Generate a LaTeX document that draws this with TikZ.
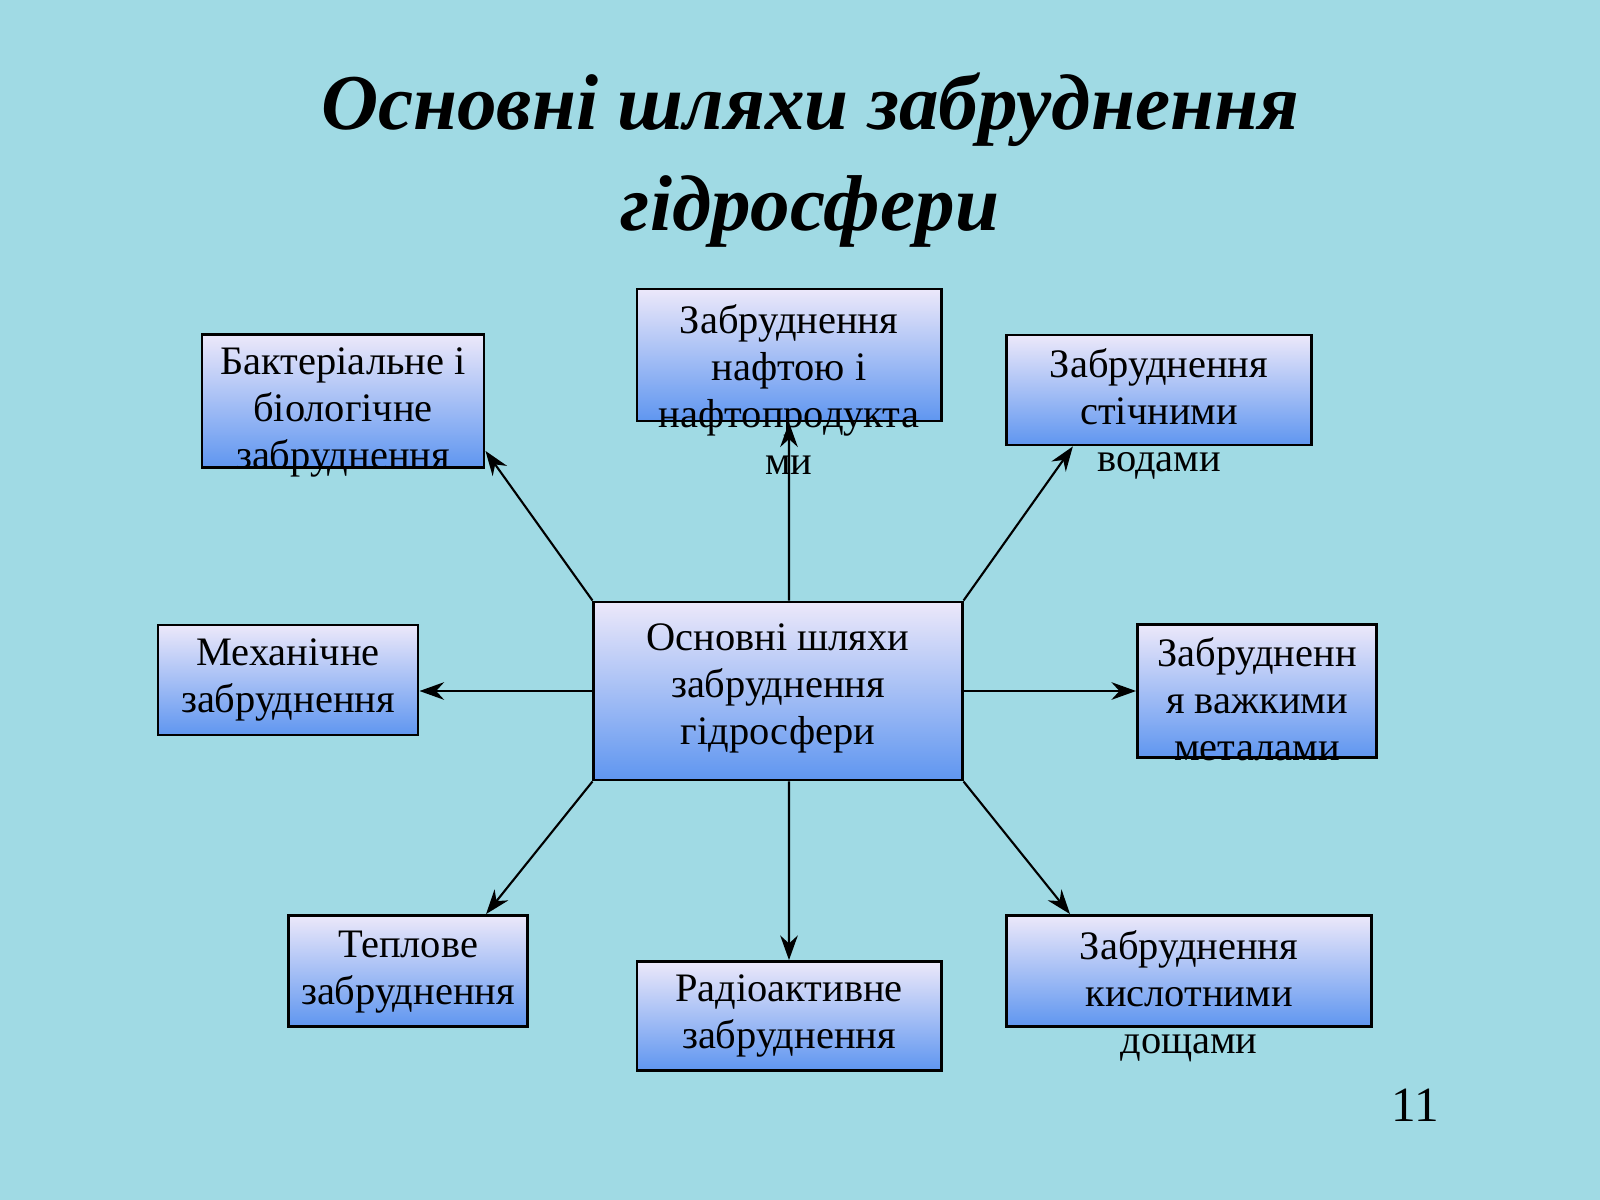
\documentclass[tikz,border=0pt]{standalone}
\usepackage{fontspec}
\setmainfont{Liberation Serif}
\usetikzlibrary{arrows.meta}

\definecolor{seabg}{RGB}{160,218,228}
\definecolor{boxtop}{RGB}{236,232,250}
\definecolor{boxbot}{RGB}{95,150,240}

\begin{document}
\begin{tikzpicture}[x=0.01cm,y=-0.01cm]
		\tikzstyle{sbox} = [draw, line width=0.8pt, rectangle, top color=boxtop, bottom color=boxbot, inner sep=0pt]
		\tikzstyle{stext} = [align=center, inner sep=0pt, font=\fontsize{11.5}{13.4}\selectfont]
		\tikzstyle{link} = [-{Stealth[length=7pt,width=5pt]}, line width=0.6pt]

		\fill[seabg] (0,0) rectangle (1600,1200);
		\useasboundingbox (0,0) rectangle (1600,1200);

		\node[align=center, font=\fontsize{22.5}{28.5}\selectfont\bfseries\itshape] (title) at (810,160) {Основні шляхи забруднення\\гідросфери};

		% boxes
		\node[sbox, minimum width=3.68cm, minimum height=1.78cm] (main) at (778,691) {};
		\node[sbox, minimum width=3.04cm, minimum height=1.32cm] (oil) at (789,355) {};
		\node[sbox, minimum width=2.82cm, minimum height=1.33cm] (bact) at (343,401) {};
		\node[sbox, minimum width=3.05cm, minimum height=1.10cm] (waste) at (1159,390) {};
		\node[sbox, minimum width=2.60cm, minimum height=1.10cm] (mech) at (288,680) {};
		\node[sbox, minimum width=2.39cm, minimum height=1.33cm] (metal) at (1257,691) {};
		\node[sbox, minimum width=2.39cm, minimum height=1.11cm] (heat) at (408,971) {};
		\node[sbox, minimum width=3.04cm, minimum height=1.09cm] (radio) at (789,1016) {};
		\node[sbox, minimum width=3.65cm, minimum height=1.11cm] (acid) at (1189,971) {};

		% texts
		\node[stext, below] at ([yshift=-0.22cm]main.north) {Основні шляхи\\забруднення\\гідросфери};
		\node[stext, below] at ([yshift=-0.16cm]oil.north) {Забруднення\\нафтою і\\нафтопродукта\\ми};
		\node[stext, below] at ([yshift=-0.14cm]bact.north) {Бактеріальне і\\біологічне\\забруднення};
		\node[stext, below] at ([yshift=-0.14cm]waste.north) {Забруднення\\стічними\\водами};
		\node[stext, below] at ([yshift=-0.14cm]mech.north) {Механічне\\забруднення};
		\node[stext, below] at ([yshift=-0.14cm]metal.north) {Забрудненн\\я важкими\\металами};
		\node[stext, below] at ([yshift=-0.16cm]heat.north) {Теплове\\забруднення};
		\node[stext, below] at ([yshift=-0.14cm]radio.north) {Радіоактивне\\забруднення};
		\node[stext, below] at ([yshift=-0.16cm]acid.north) {Забруднення\\кислотними\\дощами};

		\node[font=\fontsize{14}{16}\selectfont] (page) at (1415,1105) {11};

		% arrows
		\draw[link] (main.north west) -- ([yshift=0.18cm]bact.south east);
		\draw[link] ([xshift=0.11cm]main.north) -- (oil.south);
		\draw[link] (main.north east) -- ([xshift=-2.40cm]waste.south east);
		\draw[link] (main.west) -- (main.west -| mech.east);
		\draw[link] (main.east) -- (metal.west);
		\draw[link] (main.south west) -- ([xshift=0.78cm]heat.north);
		\draw[link] ([xshift=0.11cm]main.south) -- (radio.north);
		\draw[link] (main.south east) -- ([xshift=0.65cm]acid.north west);
\end{tikzpicture}
\end{document}
